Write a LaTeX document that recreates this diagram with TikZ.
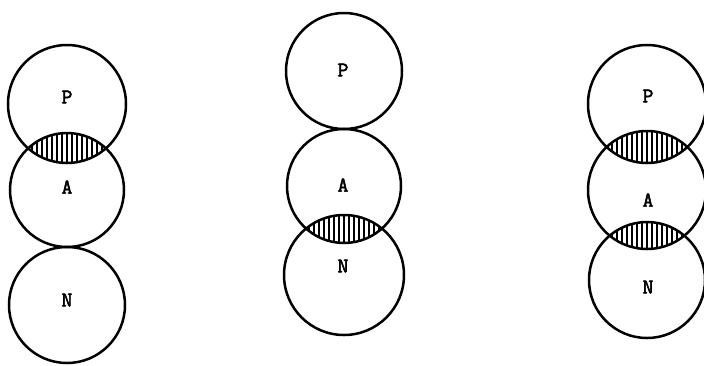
\documentclass[tikz,border=0pt]{standalone}
\usepackage{fontspec}
\newfontfamily\typew[AutoFakeBold=2.5]{Latin Modern Mono}
\begin{document}
\begin{tikzpicture}[x=1pt,y=-1pt,
  ring/.style={line width=2.5pt,draw=black},
  lbl/.style={font=\typew\bfseries\fontsize{21}{21}\selectfont,inner sep=0pt},
  hatch/.style={line width=2.4pt,draw=black}]
\useasboundingbox (0,0) rectangle (704,365);
% ---------- helper macro for hatched lens ----------
\newcommand{\lensfill}[5]{% x, y1, r1, y2, r2
  \begin{scope}
    \clip (#1,#2) circle (#3);
    \clip (#1,#4) circle (#5);
    \foreach \dx in {-45,-40,...,45} {\draw[hatch] (#1+\dx,#2) -- (#1+\dx,#4);}
  \end{scope}}
% ---------- left column ----------
\lensfill{67}{104}{59}{190}{57}
\draw[ring] (67,104) circle (59);
\draw[ring] (67,190) circle (57);
\draw[ring] (67,305) circle (58);
\node[lbl] (P1) at (67,97) {P};
\node[lbl] (A1) at (67,187) {A};
\node[lbl] (N1) at (67,300) {N};
% ---------- middle column ----------
\lensfill{344}{186}{57}{275}{60}
\draw[ring] (344,71) circle (58);
\draw[ring] (344,186) circle (57);
\draw[ring] (344,275) circle (60);
\node[lbl] (P2) at (343,70) {P};
\node[lbl] (A2) at (343,185) {A};
\node[lbl] (N2) at (343,266) {N};
% ---------- right column ----------
\lensfill{647}{104}{59}{190}{59}
\lensfill{647}{190}{59}{280}{58}
\draw[ring] (647,104) circle (59);
\draw[ring] (647,190) circle (59);
\draw[ring] (647,280) circle (58);
\node[lbl] (P3) at (648,96) {P};
\node[lbl] (A3) at (648,200) {A};
\node[lbl] (N3) at (648,287) {N};
\end{tikzpicture}
\end{document}
